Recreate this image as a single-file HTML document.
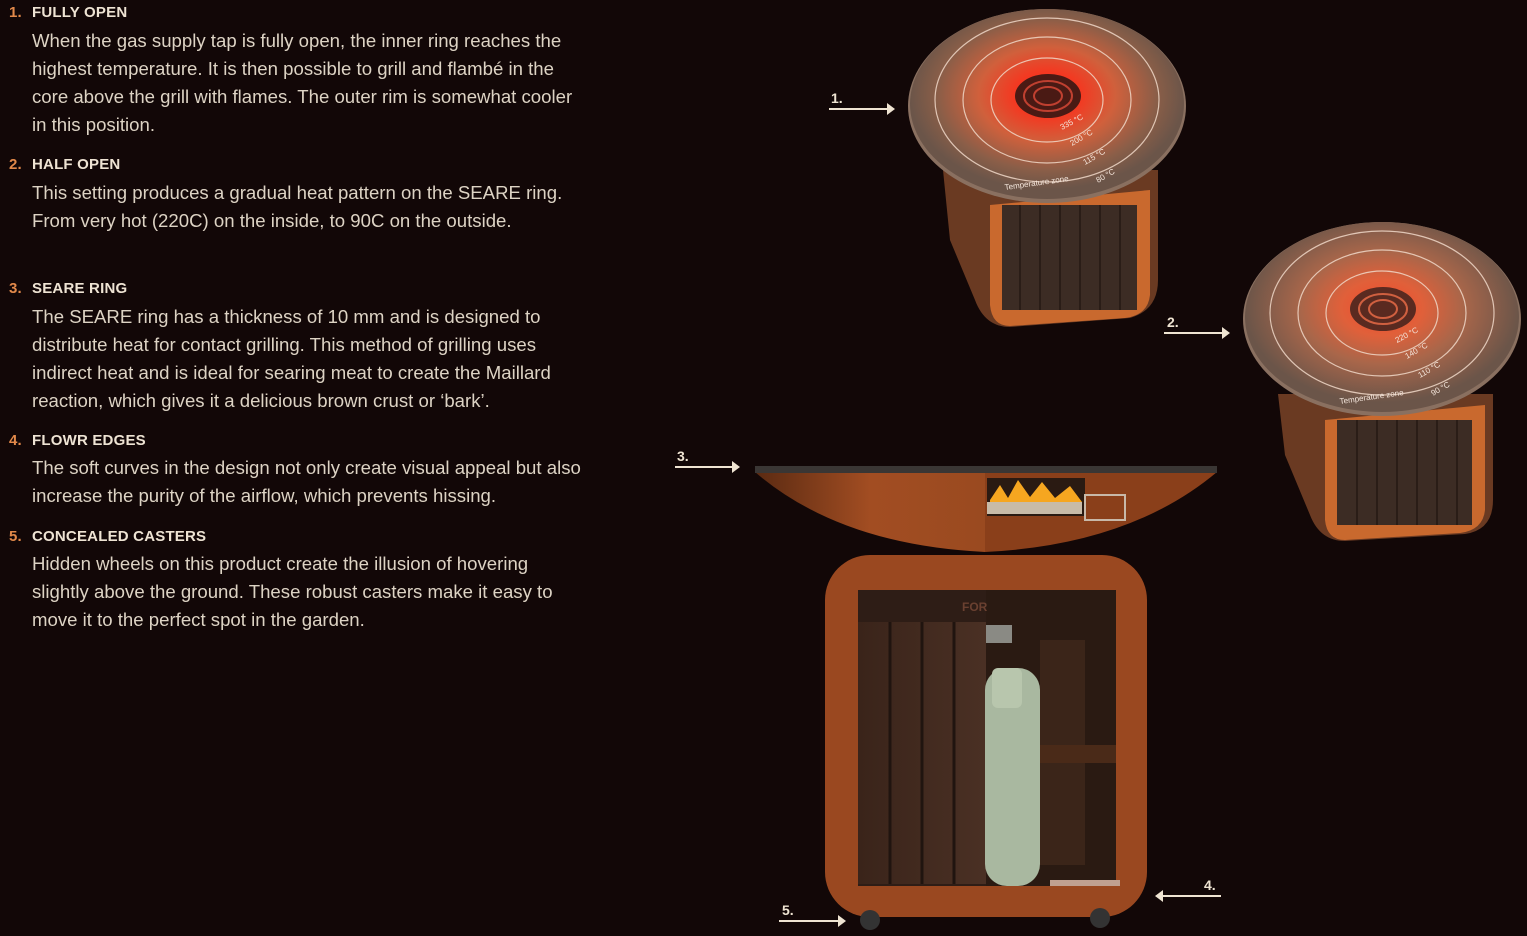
<!DOCTYPE html>
<html><head><meta charset="utf-8"><style>
html,body{margin:0;padding:0;background:#120707;}
body{width:1527px;height:936px;position:relative;overflow:hidden;font-family:"Liberation Sans",sans-serif;}
.h{position:absolute;left:9px;font-weight:bold;font-size:15px;color:#eee3d3;letter-spacing:0.2px}
.h b{color:#e2894a;display:inline-block;width:23px}
.p{position:absolute;left:32px;font-size:18.6px;line-height:28px;color:#ddd3c4;white-space:nowrap}
svg{position:absolute;left:0;top:0}
</style></head><body>
<div class="h" style="top:4px"><b>1.</b>FULLY OPEN</div>
<div class="p" style="top:27px">When the gas supply tap is fully open, the inner ring reaches the<br>highest temperature. It is then possible to grill and flambé in the<br>core above the grill with flames. The outer rim is somewhat cooler<br>in this position.</div>
<div class="h" style="top:156px"><b>2.</b>HALF OPEN</div>
<div class="p" style="top:179px">This setting produces a gradual heat pattern on the SEARE ring.<br>From very hot (220C) on the inside, to 90C on the outside.</div>
<div class="h" style="top:280px"><b>3.</b>SEARE RING</div>
<div class="p" style="top:303px">The SEARE ring has a thickness of 10 mm and is designed to<br>distribute heat for contact grilling. This method of grilling uses<br>indirect heat and is ideal for searing meat to create the Maillard<br>reaction, which gives it a delicious brown crust or ‘bark’.</div>
<div class="h" style="top:432px"><b>4.</b>FLOWR EDGES</div>
<div class="p" style="top:454px">The soft curves in the design not only create visual appeal but also<br>increase the purity of the airflow, which prevents hissing.</div>
<div class="h" style="top:528px"><b>5.</b>CONCEALED CASTERS</div>
<div class="p" style="top:550px">Hidden wheels on this product create the illusion of hovering<br>slightly above the ground. These robust casters make it easy to<br>move it to the perfect spot in the garden.</div>

<svg width="1527" height="936" viewBox="0 0 1527 936">
<defs>
<radialGradient id="heat1" cx="0.5" cy="0.45" r="0.5">
<stop offset="0" stop-color="#ff2418"/><stop offset="0.25" stop-color="#f23a22"/><stop offset="0.5" stop-color="#d0603c"/><stop offset="0.8" stop-color="#8a5e48"/><stop offset="1" stop-color="#6b5549"/></radialGradient>
<radialGradient id="heat2" cx="0.5" cy="0.45" r="0.5">
<stop offset="0" stop-color="#f5482a"/><stop offset="0.3" stop-color="#e0603a"/><stop offset="0.6" stop-color="#a8664a"/><stop offset="1" stop-color="#6b5549"/></radialGradient>
<linearGradient id="bowl" x1="0" x2="1"><stop offset="0" stop-color="#5a2a12"/><stop offset="0.5" stop-color="#a24d22"/><stop offset="1" stop-color="#9a4a20"/></linearGradient>
<linearGradient id="wood" x1="0" x2="1"><stop offset="0" stop-color="#3a241a"/><stop offset="1" stop-color="#4a3024"/></linearGradient>
</defs>

<g>
<path d="M943 170 L1158 170 L1158 280 Q1158 310 1130 318 L1010 327 Q985 327 975 300 L950 240 Z" fill="#6a3a22"/>
<path d="M990 205 L1150 190 L1150 295 Q1148 315 1125 318 L1010 326 Q992 326 990 305 Z" fill="#c9692e"/>
<rect x="1002" y="205" width="135" height="105" fill="#3c2c24"/>
<g stroke="#2a1d17" stroke-width="2"><line x1="1020" y1="205" x2="1020" y2="310"/><line x1="1040" y1="205" x2="1040" y2="310"/><line x1="1060" y1="205" x2="1060" y2="310"/><line x1="1080" y1="205" x2="1080" y2="310"/><line x1="1100" y1="205" x2="1100" y2="310"/><line x1="1120" y1="205" x2="1120" y2="310"/></g>
<ellipse cx="1047" cy="106" rx="139" ry="97" fill="#8a7060"/>
<ellipse cx="1047" cy="104" rx="137" ry="95" fill="url(#heat1)"/>
<g fill="none" stroke="#f0d8c8" stroke-width="1.2" opacity="0.85">
<ellipse cx="1047" cy="100" rx="56" ry="42"/><ellipse cx="1047" cy="100" rx="84" ry="63"/><ellipse cx="1047" cy="100" rx="112" ry="82"/></g>
<ellipse cx="1048" cy="96" rx="33" ry="22" fill="#4a1a14"/>
<g fill="none" stroke="#c04030" stroke-width="2"><ellipse cx="1048" cy="96" rx="24" ry="15"/><ellipse cx="1048" cy="96" rx="14" ry="9"/></g>
<g fill="#f4e6dc" font-size="8">
<text x="1062" y="130" transform="rotate(-28 1062 130)">335 °C</text>
<text x="1072" y="146" transform="rotate(-30 1072 146)">200 °C</text>
<text x="1085" y="165" transform="rotate(-30 1085 165)">115 °C</text>
<text x="1005" y="190" transform="rotate(-8 1005 190)">Temperature zone</text>
<text x="1098" y="183" transform="rotate(-30 1098 183)">80 °C</text></g>
</g>

<g>
<path d="M1278 394 L1493 394 L1493 500 Q1493 530 1465 534 L1345 541 Q1320 541 1310 515 L1285 455 Z" fill="#6a3a22"/>
<path d="M1325 420 L1485 405 L1485 510 Q1483 530 1460 533 L1345 540 Q1327 540 1325 520 Z" fill="#c9692e"/>
<rect x="1337" y="420" width="135" height="105" fill="#3c2c24"/>
<g stroke="#2a1d17" stroke-width="2"><line x1="1357" y1="420" x2="1357" y2="525"/><line x1="1377" y1="420" x2="1377" y2="525"/><line x1="1397" y1="420" x2="1397" y2="525"/><line x1="1417" y1="420" x2="1417" y2="525"/><line x1="1437" y1="420" x2="1437" y2="525"/><line x1="1457" y1="420" x2="1457" y2="525"/></g>
<ellipse cx="1382" cy="319" rx="139" ry="97" fill="#8a7060"/>
<ellipse cx="1382" cy="317" rx="137" ry="95" fill="url(#heat2)"/>
<g fill="none" stroke="#f0d8c8" stroke-width="1.2" opacity="0.85">
<ellipse cx="1382" cy="313" rx="56" ry="42"/><ellipse cx="1382" cy="313" rx="84" ry="63"/><ellipse cx="1382" cy="313" rx="112" ry="82"/></g>
<ellipse cx="1383" cy="309" rx="33" ry="22" fill="#5a2a20"/>
<g fill="none" stroke="#d06040" stroke-width="2"><ellipse cx="1383" cy="309" rx="24" ry="15"/><ellipse cx="1383" cy="309" rx="14" ry="9"/></g>
<g fill="#f4e6dc" font-size="8">
<text x="1397" y="343" transform="rotate(-28 1397 343)">220 °C</text>
<text x="1407" y="359" transform="rotate(-30 1407 359)">140 °C</text>
<text x="1420" y="378" transform="rotate(-30 1420 378)">110 °C</text>
<text x="1340" y="404" transform="rotate(-8 1340 404)">Temperature zone</text>
<text x="1433" y="396" transform="rotate(-30 1433 396)">90 °C</text></g>
</g>

<g>
<rect x="825" y="555" width="322" height="362" rx="45" fill="#9a4820"/>
<rect x="858" y="590" width="128" height="296" fill="#2e1d16"/>
<rect x="858" y="622" width="128" height="262" fill="url(#wood)"/>
<g stroke="#20140f" stroke-width="3"><line x1="890" y1="622" x2="890" y2="884"/><line x1="922" y1="622" x2="922" y2="884"/><line x1="954" y1="622" x2="954" y2="884"/></g>
<rect x="986" y="590" width="130" height="296" fill="#2a1a12"/>
<rect x="1040" y="640" width="45" height="225" fill="#3b2519"/>
<rect x="1040" y="745" width="76" height="18" fill="#4a2a18"/>
<rect x="1050" y="880" width="70" height="6" fill="#c0a090"/>
<rect x="986" y="625" width="26" height="18" fill="#8a8a84"/>
<rect x="985" y="668" width="55" height="218" rx="22" fill="#a9b8a0"/>
<rect x="992" y="668" width="30" height="40" rx="6" fill="#b8c6ad"/>
<path d="M755 472 L985 472 L985 552 Q840 545 755 472 Z" fill="url(#bowl)"/>
<path d="M985 472 L1217 472 Q1130 545 985 552 Z" fill="#8a3f1a"/>
<rect x="755" y="466" width="462" height="7" fill="#3a3634"/>
<rect x="987" y="478" width="98" height="38" fill="#2a1a12"/>
<path d="M990 500 L1000 485 L1008 498 L1018 480 L1030 497 L1042 482 L1055 498 L1070 486 L1082 502 L990 502 Z" fill="#f6a620"/>
<rect x="987" y="502" width="95" height="12" fill="#c8bba8"/>
<rect x="1085" y="495" width="40" height="25" fill="none" stroke="#c8b8a8" stroke-width="2"/>
<circle cx="870" cy="920" r="10" fill="#333"/>
<circle cx="1100" cy="918" r="10" fill="#333"/>
<text x="962" y="611" fill="#6a4030" font-size="12" font-weight="bold">FOR</text>
</g>

<g stroke="#efe4d2" stroke-width="2" fill="#efe4d2">
<line x1="829" y1="109" x2="889" y2="109"/><path d="M895 109 L887 103 L887 115 Z" stroke="none"/>
<line x1="1164" y1="333" x2="1224" y2="333"/><path d="M1230 333 L1222 327 L1222 339 Z" stroke="none"/>
<line x1="675" y1="467" x2="734" y2="467"/><path d="M740 467 L732 461 L732 473 Z" stroke="none"/>
<line x1="1161" y1="896" x2="1221" y2="896"/><path d="M1155 896 L1163 890 L1163 902 Z" stroke="none"/>
<line x1="779" y1="921" x2="840" y2="921"/><path d="M846 921 L838 915 L838 927 Z" stroke="none"/>
</g>
<g fill="#efe4d2" font-size="14" font-weight="bold">
<text x="831" y="103">1.</text><text x="1167" y="327">2.</text><text x="677" y="461">3.</text><text x="1204" y="890">4.</text><text x="782" y="915">5.</text></g>
</svg>
</body></html>
